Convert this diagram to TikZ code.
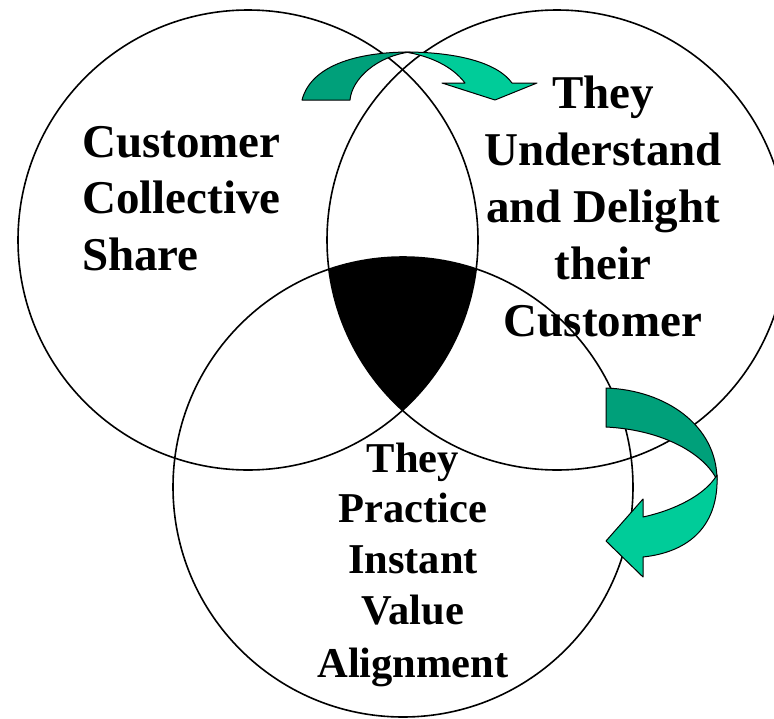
\documentclass[tikz,border=0pt]{standalone}
\usepackage{fontspec}
\setmainfont{Liberation Serif}
\begin{document}
\begin{tikzpicture}[x=1pt,y=-1pt,
  ring/.style={draw=black,line width=1.6pt},
  lbl/.style={font=\fontsize{47}{56}\selectfont\bfseries,inner sep=0pt},
  lblsmall/.style={font=\fontsize{42.5}{51}\selectfont\bfseries,inner sep=0pt},
  arrdark/.style={fill=arrowdark,draw=black,line width=1pt,line join=round},
  arrlight/.style={fill=arrowlight,draw=black,line width=1pt,line join=round}]
\definecolor{arrowdark}{RGB}{0,160,122}
\definecolor{arrowlight}{RGB}{0,204,153}
\useasboundingbox (0,0) rectangle (774,718);
\coordinate (cL) at (248,240);
\coordinate (cR) at (557,240);
\coordinate (cB) at (403,487);
% triple intersection
\begin{scope}
  \clip (cL) circle[radius=230pt];
  \clip (cR) circle[radius=230pt];
  \fill[black] (cB) circle[radius=230pt];
\end{scope}
\draw[ring] (cL) circle[radius=230pt];
\draw[ring] (cR) circle[radius=230pt];
\draw[ring] (cB) circle[radius=230pt];
% top curved arrow
\draw[arrdark] (302,100) .. controls (312,62) and (365,52) .. (410,52)
   .. controls (378,56) and (352,78) .. (350,100) -- cycle;
\draw[arrlight] (405,52) .. controls (455,52) and (497,62) .. (512,83)
   -- (537,83) -- (495,100) -- (442,83) -- (465,83)
   .. controls (452,66) and (430,56) .. (405,52) -- cycle;
% right curved arrow
\draw[arrdark] (606,388) .. controls (665,390) and (717,425) .. (717,480)
   .. controls (705,455) and (665,430) .. (606,427) -- cycle;
\draw[arrlight] (717,475) .. controls (719,525) and (690,552) .. (643,557)
   -- (643,577) -- (606,541) -- (643,499) -- (643,517)
   .. controls (675,510) and (705,495) .. (717,475) -- cycle;
% texts
\node[lbl,anchor=base west] (l1) at (82,157) {Customer};
\node[lbl,anchor=base west] (l2) at (82,213) {Collective};
\node[lbl,anchor=base west] (l3) at (82,270) {Share};
\node[lbl,anchor=base] (r1) at (603,108) {They};
\node[lbl,anchor=base] (r2) at (603,165) {Understand};
\node[lbl,anchor=base] (r3) at (603,222) {and Delight};
\node[lbl,anchor=base] (r4) at (603,279) {their};
\node[lbl,anchor=base] (r5) at (603,336) {Customer};
\node[lblsmall,anchor=base] (b1) at (413,472) {They};
\node[lblsmall,anchor=base] (b2) at (413,522) {Practice};
\node[lblsmall,anchor=base] (b3) at (413,573) {Instant};
\node[lblsmall,anchor=base] (b4) at (413,624) {Value};
\node[lblsmall,anchor=base] (b5) at (413,677) {Alignment};
\end{tikzpicture}
\end{document}
